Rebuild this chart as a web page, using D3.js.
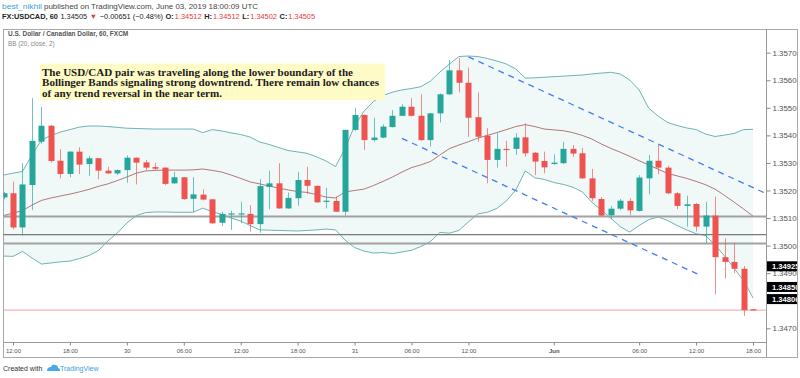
<!DOCTYPE html>
<html>
<head>
<meta charset="utf-8">
<script src="https://cdn.jsdelivr.net/npm/d3@7"></script>
<style>
  body { margin: 0; background: #fff; }
  svg { display: block; }
  text { font-family: "Liberation Sans", Arial, sans-serif; }
</style>
</head>
<body>
<script>
// hourly bars, index 0 = May 29 12:00 UTC (weekend gap closed after index 56)
var barIndex = d3.range(-1, 79);
var opens = [1.35175,1.35190,1.35066,1.35220,1.35377,1.35435,1.35308,1.35260,1.35341,1.35296,
  1.35317,1.35272,1.35262,1.35274,1.35319,1.35302,1.35285,1.35283,1.35226,1.35248,
  1.35170,1.35185,1.35168,1.35083,1.35114,1.35114,1.35115,1.35078,1.35213,1.35226,
  1.35135,1.35172,1.35238,1.35217,1.35159,1.35162,1.35123,1.35420,1.35474,1.35383,
  1.35392,1.35430,1.35471,1.35504,1.35471,1.35383,1.35480,1.35549,1.35636,1.35591,
  1.35466,1.35399,1.35311,1.35351,1.35351,1.35393,1.35337,1.35307,1.35296,1.35299,
  1.35351,1.35335,1.35244,1.35169,1.35110,1.35134,1.35162,1.35126,1.35244,1.35308,
  1.35283,1.35190,1.35144,1.35151,1.35069,1.35109,1.34958,1.34941,1.34916,1.34769];
var highs = [1.35195,1.35232,1.35299,1.35535,1.35503,1.35438,1.35350,1.35343,1.35357,1.35326,
  1.35318,1.35286,1.35276,1.35328,1.35320,1.35311,1.35301,1.35284,1.35268,1.35249,
  1.35248,1.35204,1.35169,1.35123,1.35127,1.35159,1.35147,1.35241,1.35272,1.35299,
  1.35192,1.35268,1.35286,1.35218,1.35210,1.35178,1.35421,1.35500,1.35476,1.35464,
  1.35440,1.35492,1.35513,1.35535,1.35549,1.35481,1.35552,1.35674,1.35680,1.35646,
  1.35556,1.35426,1.35408,1.35380,1.35408,1.35444,1.35340,1.35341,1.35331,1.35377,
  1.35365,1.35354,1.35278,1.35176,1.35144,1.35169,1.35172,1.35256,1.35329,1.35365,
  1.35290,1.35195,1.35181,1.35155,1.35159,1.35178,1.35027,1.35011,1.34926,1.34770];
var lows = [1.35169,1.35059,1.35036,1.35129,1.35370,1.35301,1.35244,1.35248,1.35260,1.35253,
  1.35241,1.35260,1.35256,1.35228,1.35222,1.35274,1.35274,1.35220,1.35224,1.35166,
  1.35123,1.35164,1.35078,1.35071,1.35057,1.35081,1.35051,1.35047,1.35132,1.35133,
  1.35133,1.35145,1.35187,1.35155,1.35135,1.35122,1.35109,1.35416,1.35347,1.35378,
  1.35389,1.35429,1.35470,1.35469,1.35380,1.35359,1.35447,1.35547,1.35556,1.35395,
  1.35377,1.35226,1.35283,1.35286,1.35329,1.35322,1.35256,1.35262,1.35294,1.35296,
  1.35322,1.35242,1.35162,1.35106,1.35096,1.35129,1.35111,1.35124,1.35186,1.35259,
  1.35187,1.35132,1.35069,1.35051,1.35008,1.34823,1.34881,1.34900,1.34745,1.34765];
var closes = [1.35190,1.35066,1.35222,1.35380,1.35435,1.35307,1.35260,1.35341,1.35294,1.35317,
  1.35272,1.35262,1.35274,1.35319,1.35301,1.35283,1.35279,1.35224,1.35248,1.35169,
  1.35186,1.35167,1.35081,1.35115,1.35117,1.35117,1.35078,1.35216,1.35226,1.35135,
  1.35173,1.35238,1.35217,1.35157,1.35163,1.35123,1.35420,1.35474,1.35383,1.35392,
  1.35432,1.35471,1.35504,1.35471,1.35383,1.35480,1.35549,1.35636,1.35591,1.35464,
  1.35395,1.35311,1.35351,1.35347,1.35392,1.35335,1.35305,1.35284,1.35301,1.35351,
  1.35334,1.35244,1.35172,1.35109,1.35134,1.35163,1.35128,1.35247,1.35308,1.35283,
  1.35190,1.35144,1.35150,1.35069,1.35109,1.34958,1.34941,1.34916,1.34766,1.34765];

// Bollinger Bands (20, close, 2)
var bbUpper = [1.35256,1.35263,1.35269,1.35329,1.35383,1.35400,1.35412,1.35421,1.35430,1.35434,
  1.35434,1.35432,1.35429,1.35426,1.35425,1.35424,1.35423,1.35423,1.35423,1.35423,
  1.35423,1.35410,1.35421,1.35416,1.35409,1.35403,1.35394,1.35376,1.35367,1.35356,
  1.35345,1.35340,1.35335,1.35322,1.35307,1.35287,1.35353,1.35434,1.35488,1.35523,
  1.35545,1.35557,1.35565,1.35570,1.35577,1.35597,1.35630,1.35659,1.35686,1.35688,
  1.35686,1.35679,1.35670,1.35659,1.35641,1.35608,1.35609,1.35611,1.35613,1.35615,
  1.35617,1.35619,1.35623,1.35626,1.35629,1.35623,1.35601,1.35565,1.35499,1.35470,
  1.35447,1.35436,1.35427,1.35421,1.35405,1.35396,1.35401,1.35407,1.35421,1.35422];
var bbBasis = [1.35109,1.35118,1.35127,1.35147,1.35164,1.35173,1.35180,1.35187,1.35195,1.35204,
  1.35215,1.35224,1.35236,1.35249,1.35263,1.35271,1.35273,1.35274,1.35274,1.35274,
  1.35275,1.35278,1.35273,1.35267,1.35256,1.35244,1.35231,1.35224,1.35216,1.35209,
  1.35202,1.35196,1.35193,1.35185,1.35176,1.35173,1.35195,1.35200,1.35205,1.35218,
  1.35233,1.35249,1.35267,1.35283,1.35293,1.35305,1.35329,1.35352,1.35365,1.35377,
  1.35390,1.35400,1.35410,1.35421,1.35432,1.35439,1.35432,1.35423,1.35420,1.35417,
  1.35410,1.35400,1.35387,1.35369,1.35353,1.35339,1.35324,1.35308,1.35293,1.35277,
  1.35262,1.35253,1.35244,1.35233,1.35221,1.35205,1.35182,1.35158,1.35133,1.35107];
var bbLower = [1.34962,1.34961,1.34979,1.34955,1.34933,1.34937,1.34941,1.34944,1.34953,1.34964,
  1.34982,1.35017,1.35046,1.35082,1.35109,1.35120,1.35122,1.35122,1.35121,1.35121,
  1.35121,1.35136,1.35123,1.35113,1.35100,1.35089,1.35073,1.35057,1.35056,1.35055,
  1.35054,1.35053,1.35055,1.35057,1.35060,1.35057,1.35020,1.34993,1.34980,1.34973,
  1.34975,1.34971,1.34977,1.34983,1.34997,1.35015,1.35048,1.35045,1.35055,1.35086,
  1.35115,1.35121,1.35135,1.35162,1.35202,1.35271,1.35246,1.35240,1.35229,1.35222,
  1.35212,1.35195,1.35158,1.35129,1.35100,1.35069,1.35049,1.35073,1.35094,1.35104,
  1.35091,1.35073,1.35057,1.35043,1.35037,1.35002,1.34962,1.34918,1.34873,1.34810];

// 1.348 sits under the black marker in the reference, so it is not listed
var priceTicks = [1.347, 1.349, 1.350, 1.351, 1.352, 1.353, 1.354, 1.355, 1.356, 1.357];
var timeTickIndex = [0, 6, 12, 18, 24, 30, 36, 42, 48, 57, 66, 72, 78];
var timeTickLabels = ["12:00", "18:00", "30", "06:00", "12:00", "18:00", "31", "06:00", "12:00", "Jun", "06:00", "12:00", "18:00"];

var levelLines = [1.35106, 1.35040, 1.35008];
var lastPrice = 1.34766;
var axisMarkers = [1.34925, 1.34850, 1.34806];
var channelUpper = [[48, 1.35685], [79.3, 1.35190]];
var channelLower = [[41, 1.35389], [72.4, 1.34893]];

// header pieces: text, bold, colour
var headerLine2 = [
  ["FX:USDCAD, 60", true, "#222"], ["1.34505", false, "#222"], ["\u25BC", false, "#e53935"],
  ["\u22120.00651 (\u22120.48%)", false, "#222"], ["O:", true, "#222"], ["1.34512", false, "#e53935"],
  ["H:", true, "#222"], ["1.34512", false, "#e53935"], ["L:", true, "#222"],
  ["1.34502", false, "#e53935"], ["C:", true, "#222"], ["1.34505", false, "#e53935"]
];

var noteLines = [
  "The USD/CAD pair was traveling along the lower boundary of the",
  "Bollinger Bands signaling strong downtrend. There remain low chances",
  "of any trend reversal in the near term."
];

var W = 800, H = 378;
var pane = {left: 3, top: 29, right: 766, bottom: 342, frameRight: 797, frameBottom: 357};

var x = d3.scaleLinear().domain([0, 78]).range([13, 753]);
var y = d3.scaleLinear().domain([1.347, 1.357]).range([328.3, 52.7]);

var upCol = "#26a69a", downCol = "#ef5350";

var svg = d3.select("body").append("svg")
    .attr("width", W)
    .attr("height", H);

var defs = svg.append("defs");
defs.append("clipPath").attr("id", "plotclip")
  .append("rect")
    .attr("x", pane.left + 0.5).attr("y", pane.top + 0.5)
    .attr("width", pane.right - pane.left - 0.5)
    .attr("height", pane.bottom - pane.top - 0.5);
defs.append("clipPath").attr("id", "axisclip")
  .append("rect")
    .attr("x", pane.right).attr("y", pane.top)
    .attr("width", pane.frameRight - pane.right)
    .attr("height", pane.bottom - pane.top);

// header
svg.append("text").attr("x", 2).attr("y", 9)
    .attr("textLength", 40).attr("lengthAdjust", "spacingAndGlyphs")
    .style("font-size", "7.6px").style("fill", "#3aa0e0").text("best_nikhil");
svg.append("text").attr("x", 44).attr("y", 9)
    .attr("textLength", 214).attr("lengthAdjust", "spacingAndGlyphs")
    .style("font-size", "7.6px").style("fill", "#444")
    .text("published on TradingView.com, June 03, 2019 18:00:09 UTC");

var hx = 2;
headerLine2.forEach(function(h, i) {
  var t = svg.append("text").attr("x", hx).attr("y", 19)
      .style("font-size", "7.4px").style("font-weight", h[1] ? "bold" : "normal")
      .style("fill", h[2]).text(h[0]);
  // labels like "O:" sit tight against their value
  hx += t.node().getComputedTextLength() + (h[1] && i > 0 ? 1 : 2.6);
});

// frame
svg.append("rect")
    .attr("x", pane.left + 0.5).attr("y", pane.top + 0.5)
    .attr("width", pane.frameRight - pane.left)
    .attr("height", pane.frameBottom - pane.top)
    .style("fill", "none").style("stroke", "#a8a8a8");

var plot = svg.append("g").attr("clip-path", "url(#plotclip)");

// bands
plot.append("path")
    .datum(barIndex)
    .attr("d", d3.area()
      .x(function(d) { return x(d); })
      .y0(function(d, i) { return y(bbLower[i]); })
      .y1(function(d, i) { return y(bbUpper[i]); }))
    .style("fill", "rgba(25,135,135,0.06)");

[[bbUpper, "#138484"], [bbLower, "#138484"], [bbBasis, "#872323"]].forEach(function(s) {
  plot.append("path")
      .datum(barIndex)
      .attr("d", d3.line().x(function(d) { return x(d); }).y(function(d, i) { return y(s[0][i]); }))
      .style("fill", "none").style("stroke", s[1]).style("stroke-width", 1).style("opacity", 0.6);
});

// horizontal levels
levelLines.forEach(function(p, i) {
  plot.append("line")
      .attr("x1", pane.left).attr("x2", pane.right)
      .attr("y1", y(p)).attr("y2", y(p))
      .style("stroke", i == 1 ? "#7a7a7a" : "#a2a2a2")
      .style("stroke-width", i == 1 ? 1.2 : 2);
});

plot.append("line")
    .attr("x1", pane.left).attr("x2", pane.right)
    .attr("y1", y(lastPrice)).attr("y2", y(lastPrice))
    .style("stroke", "#f4a0a0").style("stroke-width", 1);

// channel
[channelUpper, channelLower].forEach(function(c) {
  plot.append("line")
      .attr("x1", x(c[0][0])).attr("y1", y(c[0][1]))
      .attr("x2", x(c[1][0])).attr("y2", y(c[1][1]))
      .style("stroke", "#3f7ff0").style("stroke-width", 1.3)
      .style("stroke-dasharray", "6,5");
});

// candles
var candle = plot.selectAll(".candle")
    .data(barIndex)
  .enter().append("g")
    .attr("class", "candle");

candle.append("line")
    .attr("x1", function(d) { return Math.round(x(d)) + 0.5; })
    .attr("x2", function(d) { return Math.round(x(d)) + 0.5; })
    .attr("y1", function(d, i) { return y(highs[i]); })
    .attr("y2", function(d, i) { return y(lows[i]); })
    .style("stroke", function(d, i) { return closes[i] >= opens[i] ? upCol : downCol; })
    .style("opacity", 0.65);

candle.append("rect")
    .attr("x", function(d) { return Math.round(x(d)) - 2.5; })
    .attr("width", 6)
    .attr("y", function(d, i) { return y(Math.max(opens[i], closes[i])); })
    .attr("height", function(d, i) { return Math.max(1.2, Math.abs(y(opens[i]) - y(closes[i]))); })
    .style("fill", function(d, i) { return closes[i] >= opens[i] ? upCol : downCol; });

// titles inside pane
svg.append("text").attr("x", 8).attr("y", 35.5)
    .style("font-size", "6.5px").style("font-weight", "bold").style("fill", "#555")
    .text("U.S. Dollar / Canadian Dollar, 60, FXCM");
svg.append("text").attr("x", 8).attr("y", 45.5)
    .style("font-size", "6.3px").style("fill", "#888")
    .text("BB (20, close, 2)");

// note
svg.append("rect")
    .attr("x", 40).attr("y", 63.5).attr("width", 345).attr("height", 36.5)
    .style("fill", "#fffbc6");
var lens = [311, 337, 180];
noteLines.forEach(function(t, i) {
  svg.append("text")
      .attr("x", 42).attr("y", 75.5 + i * 10.7)
      .attr("textLength", lens[i]).attr("lengthAdjust", "spacingAndGlyphs")
      .style("font-family", "'Liberation Serif', 'Times New Roman', serif")
      .style("font-weight", "bold").style("font-size", "11px").style("fill", "#1c1c1c")
      .text(t);
});

// axes
svg.append("line")
    .attr("x1", pane.right + 0.5).attr("x2", pane.right + 0.5)
    .attr("y1", pane.top).attr("y2", pane.frameBottom)
    .style("stroke", "#999");
svg.append("line")
    .attr("x1", pane.left).attr("x2", pane.right)
    .attr("y1", pane.bottom + 0.5).attr("y2", pane.bottom + 0.5)
    .style("stroke", "#999");

var yAxisG = svg.append("g")
    .attr("clip-path", "url(#axisclip)")
  .append("g")
    .attr("transform", "translate(" + (pane.right + 0.5) + ",0)")
    .call(d3.axisRight(y).tickValues(priceTicks).tickSize(4).tickPadding(2).tickFormat(d3.format(".5f")));
yAxisG.select(".domain").remove();
yAxisG.selectAll("line").style("stroke", "#888");
yAxisG.selectAll("text").style("font-size", "7.9px").style("fill", "#555")
    .style("font-family", "'Liberation Sans', Arial, sans-serif");

var markG = svg.append("g").attr("clip-path", "url(#axisclip)");
axisMarkers.forEach(function(p) {
  markG.append("rect")
      .attr("x", pane.right + 1).attr("y", y(p) - 5)
      .attr("width", 32).attr("height", 10)
      .style("fill", "#000");
  markG.append("text")
      .attr("x", pane.right + 6).attr("y", y(p) + 2.6)
      .style("font-size", "7.6px").style("font-weight", "bold").style("fill", "#fff")
      .text(d3.format(".5f")(p));
});

var xAxisG = svg.append("g")
    .attr("transform", "translate(0," + (pane.bottom + 0.5) + ")")
    .call(d3.axisBottom(x).tickValues(timeTickIndex).tickSize(3).tickPadding(3)
      .tickFormat(function(d, i) { return timeTickLabels[i]; }));
xAxisG.select(".domain").remove();
xAxisG.selectAll("line").style("stroke", "#888");
xAxisG.selectAll("text").style("font-size", "6px").style("fill", "#555")
    .style("font-family", "'Liberation Sans', Arial, sans-serif")
    .style("font-weight", function(d, i) { return timeTickLabels[i] == "Jun" ? "bold" : "normal"; });

// footer
svg.append("text").attr("x", 3).attr("y", 371)
    .style("font-size", "7px").style("fill", "#333").text("Created with");
svg.append("path")
    .attr("d", "M47,371 q0,-4 4,-4 q1,-3 4,-2 q3,0 3,3 q2,0 2,3 z")
    .style("fill", "#4aa8e8");
svg.append("text").attr("x", 60).attr("y", 371)
    .style("font-size", "7px").style("fill", "#3a9ee0").text("TradingView");
</script>
</body>
</html>
